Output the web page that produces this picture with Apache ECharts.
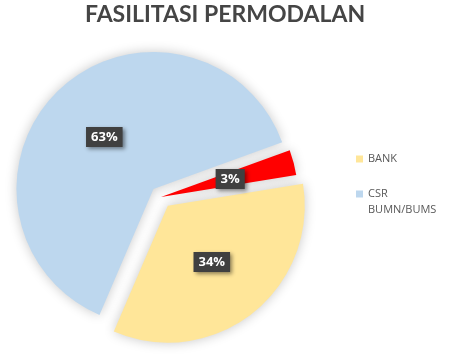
<!DOCTYPE html>
<html>
<head>
<meta charset="utf-8">
<script src="https://cdn.jsdelivr.net/npm/echarts@6/dist/echarts.min.js"></script>
<style>
  html, body { margin: 0; padding: 0; background: #fff; }
  #chart { width: 459px; height: 359px; }
</style>
</head>
<body>
<div id="chart"></div>
<script>
  // data, clockwise from the red slice
  const categories = ['LAINNYA', 'BANK', 'CSR BUMN/BUMS'];
  const values = [3, 34, 63];
  const colors = ['#ff0000', '#ffe699', '#bdd7ee'];
  const exploded = [false, true, true];
  const legendNames = ['BANK', 'CSR BUMN/BUMS'];

  const chart = echarts.init(document.getElementById('chart'));

  chart.setOption({
    backgroundColor: '#ffffff',
    title: {
      text: 'FASILITASI PERMODALAN',
      left: 80,
      top: -2,
      textStyle: {
        fontFamily: 'Lato',
        fontWeight: 'bold',
        fontSize: 23,
        color: '#454545'
      }
    },
    legend: {
      orient: 'vertical',
      left: 351,
      top: 146,
      icon: 'rect',
      itemWidth: 7,
      itemHeight: 7,
      itemGap: 3,
      textStyle: {
        fontFamily: 'Open Sans',
        fontSize: 11,
        color: '#595959',
        lineHeight: 16
      },
      // wrapped name: blank line on top keeps the square beside the first line
      formatter: name => name.indexOf(' ') > 0 ? '\n' + name.replace(' ', '\n') : name,
      data: legendNames
    },
    series: [{
      type: 'pie',
      center: [161, 197],
      radius: 137,
      startAngle: 20,
      clockwise: true,
      selectedMode: 'multiple',
      selectedOffset: 11,
      animation: false,
      itemStyle: {
        shadowBlur: 12,
        shadowColor: 'rgba(0,0,0,0.22)'
      },
      label: {
        show: true,
        position: 'inside',
        formatter: p => p.value + '%',
        color: '#ffffff',
        fontFamily: 'Open Sans',
        fontWeight: 'bold',
        fontSize: 13,
        backgroundColor: '#404040',
        padding: [4, 5, 3, 5],
        shadowBlur: 4,
        shadowColor: 'rgba(0,0,0,0.45)',
        shadowOffsetX: 2,
        shadowOffsetY: 2
      },
      labelLine: { show: false },
      emphasis: { disabled: true },
      data: categories.map((c, i) => ({
        name: c,
        value: values[i],
        selected: exploded[i],
        itemStyle: { color: colors[i] }
      }))
    }]
  });
</script>
</body>
</html>
